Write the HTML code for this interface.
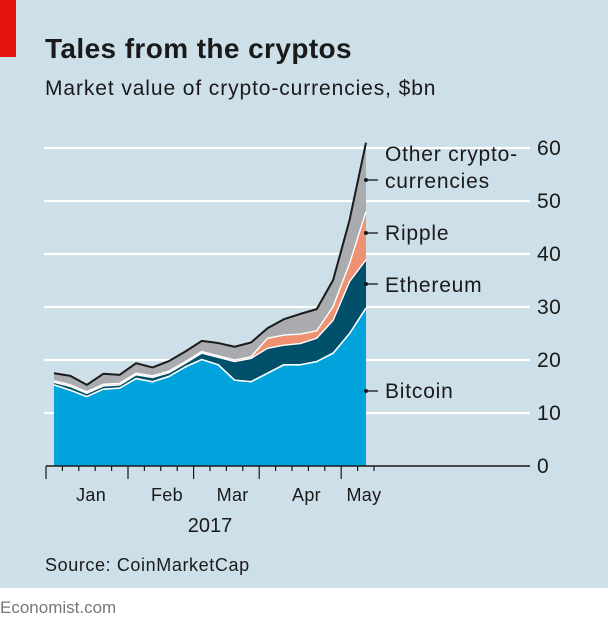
<!DOCTYPE html>
<html><head><meta charset="utf-8">
<style>
body{margin:0;width:608px;height:625px;background:#fff;overflow:hidden;font-family:"Liberation Sans",sans-serif}
#bg{position:absolute;left:0;top:0;width:608px;height:588px;background:#cddfe8}
</style></head>
<body>
<div id="bg"></div>
<svg width="608" height="625" style="position:absolute;left:0;top:0">
<rect x="0" y="0" width="16" height="57" fill="#e3120b"/>
<text x="45" y="58" font-size="28" font-weight="bold" letter-spacing="0.4" fill="#1a1a1a">Tales from the cryptos</text>
<text x="45" y="95" font-size="21" letter-spacing="0.9" fill="#1a1a1a">Market value of crypto-currencies, $bn</text>
<g id="grid"></g>
<g id="areas"></g>
<g id="axis"></g>
<g id="labels" font-size="21" letter-spacing="0.8" fill="#1a1a1a"></g>
<text x="210" y="532" font-size="20" text-anchor="middle" fill="#1a1a1a">2017</text>
<text x="45" y="571" font-size="18" letter-spacing="0.6" fill="#1a1a1a">Source: CoinMarketCap</text>
<text x="0" y="613" font-size="17" fill="#777">Economist.com</text>
</svg>
<script>
const bitcoin=[15.3,14.3,13.1,14.5,14.7,16.5,15.9,16.9,18.7,20.1,19.1,16.2,15.9,17.5,19.1,19.1,19.7,21.3,25.0,29.8];
const ethereumTop=[15.8,15.0,13.7,15.1,15.3,17.2,16.7,17.6,19.4,21.3,20.5,19.7,20.3,22.2,22.8,23.1,24.1,27.5,34.8,38.9];
const rippleTop=[16.1,15.3,14.0,15.4,15.6,17.5,17.0,17.9,19.7,21.6,20.8,20.0,20.6,24.1,24.7,24.9,25.5,30.1,38.2,48.0];
const totalTop=[17.5,17.0,15.3,17.4,17.2,19.4,18.6,19.8,21.6,23.6,23.2,22.5,23.3,26.0,27.7,28.7,29.6,35.1,46.4,61.0];
const yTicks=[0,10,20,30,40,50,60];
const months=["Jan","Feb","Mar","Apr","May"];
const monthPos=[2.5,7,11,15.5,19];
const majorTicks=[0,5,9,13,18];
const NS="http://www.w3.org/2000/svg";
const y=v=>466-v*5.3;
const x=i=>54+i*16.42;
const tx=k=>46+k*16.4;
function mk(tag,attrs,parent){const e=document.createElementNS(NS,tag);for(const k in attrs)e.setAttribute(k,attrs[k]);parent.appendChild(e);return e;}
const grid=document.getElementById('grid'),areas=document.getElementById('areas'),axis=document.getElementById('axis'),labels=document.getElementById('labels');
yTicks.forEach(v=>{
  if(v>0){const l=mk('line',{x1:44,x2:530,y1:y(v),y2:y(v),stroke:'#fff','stroke-width':2.2},grid);
  
  }
  const t=mk('text',{x:537,y:y(v)+7,'font-size':21,'letter-spacing':0.5,fill:'#1a1a1a'},labels);t.textContent=v;
  
  
});
function area(top,bot,fill,name){
  let d='M'+x(0)+','+y(top[0]);
  for(let i=1;i<top.length;i++)d+='L'+x(i)+','+y(top[i]);
  for(let i=bot.length-1;i>=0;i--)d+='L'+x(i)+','+y(bot[i]);
  const p=mk('path',{d:d+'Z',fill:fill},areas);
  
  
}
function line(top,col,w,name){
  let d='M'+x(0)+','+y(top[0]);
  for(let i=1;i<top.length;i++)d+='L'+x(i)+','+y(top[i]);
  const p=mk('path',{d:d,fill:'none',stroke:col,'stroke-width':w,'stroke-linejoin':'round'},areas);
  
  
}
const zero=bitcoin.map(()=>0);
area(totalTop,rippleTop,'#a9abae','area-other');
area(rippleTop,ethereumTop,'#ef9274','area-ripple');
area(ethereumTop,bitcoin,'#004f6b','area-ethereum');
area(bitcoin,zero,'#00a3dc','area-bitcoin');
line(bitcoin,'#fff',1.6,'bitcoin-edge');
line(ethereumTop,'#fff',1.4,'ethereum-edge');
line(rippleTop,'#fff',1.4,'ripple-edge');
line(totalTop,'#1a1a1a',2,'total-line');
const ax=mk('line',{x1:46,x2:530,y1:466,y2:466,stroke:'#1a1a1a','stroke-width':1.5},axis);


for(let k=0;k<21;k++){
  const maj=majorTicks.includes(k);
  const t=mk('line',{x1:tx(k),x2:tx(k),y1:466,y2:maj?479:471,stroke:'#1a1a1a','stroke-width':1.2},axis);
  
  
}
months.forEach((m,i)=>{
  const t=mk('text',{x:x(monthPos[i])-2+(i==0?-2:0),y:501,'font-size':18,'letter-spacing':0.3,'text-anchor':'middle'},labels);t.textContent=m;
  
  
});
const leg=[["Other crypto-",180,161,"currencies"],["Ripple",233,240],["Ethereum",284,292],["Bitcoin",391,398]];
leg.forEach(l=>{
  const ln=mk('line',{x1:366,x2:378,y1:l[1],y2:l[1],stroke:'#1a1a1a','stroke-width':1.3},labels);
  
  
  const c=mk('circle',{cx:366,cy:l[1],r:2,fill:'#1a1a1a'},labels);
  
  
  const t=mk('text',{x:385,y:l[2]},labels);t.textContent=l[0];
  
  
  if(l[3]){const t2=mk('text',{x:385,y:l[2]+27},labels);t2.textContent=l[3];
  
  }
});
</script>
</body></html>
